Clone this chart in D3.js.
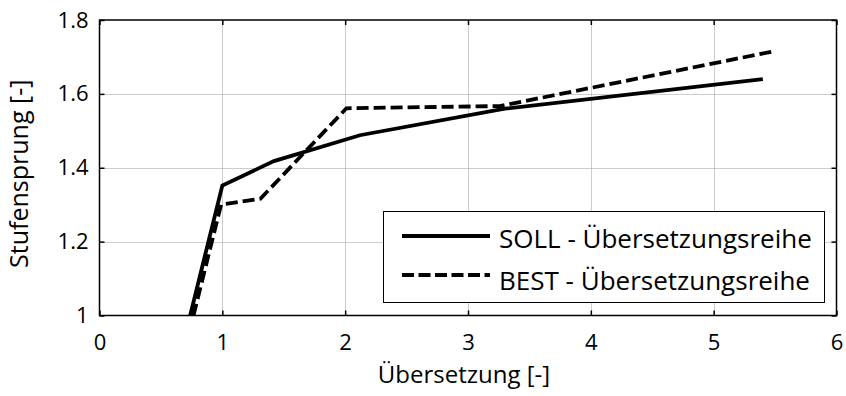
<!DOCTYPE html>
<html>
<head>
<meta charset="utf-8">
<script src="https://cdn.jsdelivr.net/npm/d3@7"></script>
<style>
  body { margin: 0; background: #fff; }
  text { font-family: "Open Sans", sans-serif; fill: #000; }
</style>
</head>
<body>
<svg id="chart" width="846" height="396"></svg>
<script>
// Übersetzung (x) vs. Stufensprung (y)
const sollX = [0.738, 1.0, 1.42, 2.12, 3.3, 5.4];
const sollY = [1.0, 1.352, 1.418, 1.488, 1.56, 1.64];
const bestX = [0.765, 0.99, 1.31, 2.01, 3.26, 5.47];
const bestY = [1.0, 1.30, 1.316, 1.561, 1.567, 1.714];
const xTicks = [0, 1, 2, 3, 4, 5, 6];
const yTicks = [1, 1.2, 1.4, 1.6, 1.8];
const seriesNames = ['SOLL - Übersetzungsreihe', 'BEST - Übersetzungsreihe'];

const svg = d3.select('#chart');
const margin = {left: 99.5, right: 9.5, top: 20, bottom: 80.5};
const W = 846, H = 396;

const x = d3.scaleLinear().domain([0, 6]).range([margin.left, W - margin.right]);
const y = d3.scaleLinear().domain([1, 1.8]).range([H - margin.bottom, margin.top]);

svg.append('defs').append('clipPath').attr('id', 'clip')
  .append('rect')
  .attr('x', x(0)).attr('y', y(1.8))
  .attr('width', x(6) - x(0)).attr('height', y(1) - y(1.8));

// grid
const grid = svg.append('g');
grid.selectAll('line.gx').data(xTicks.slice(1, -1)).enter().append('line')
  .attr('x1', d => Math.round(x(d)) + 0.5).attr('x2', d => Math.round(x(d)) + 0.5)
  .attr('y1', y(1)).attr('y2', y(1.8))
  .attr('stroke', '#999').attr('stroke-dasharray', '1,1');
grid.selectAll('line.gy').data(yTicks.slice(1, -1)).enter().append('line')
  .attr('y1', d => Math.round(y(d)) + 0.5).attr('y2', d => Math.round(y(d)) + 0.5)
  .attr('x1', x(0)).attr('x2', x(6))
  .attr('stroke', '#999').attr('stroke-dasharray', '1,1');

// lines
const line = d3.line().x(d => x(d[0])).y(d => y(d[1]));
const sollPts = sollX.map((v, i) => [v, sollY[i]]);
const bestPts = bestX.map((v, i) => [v, bestY[i]]);

const plot = svg.append('g').attr('clip-path', 'url(#clip)');
plot.append('path').datum(bestPts).attr('d', line)
  .attr('fill', 'none').attr('stroke', '#000').attr('stroke-width', 3.8)
  .attr('stroke-dasharray', '12,5');
plot.append('path').datum(sollPts).attr('d', line)
  .attr('fill', 'none').attr('stroke', '#000').attr('stroke-width', 3.8);

// axes (ticks inward, mirrored)
const tickLen = 5;
svg.append('g').attr('transform', `translate(0,${y(1)})`)
  .call(d3.axisBottom(x).tickValues(xTicks).tickSize(-tickLen).tickPadding(19).tickFormat(d3.format('d')))
  .call(g => g.select('.domain').remove());
svg.append('g').attr('transform', `translate(0,${y(1.8)})`)
  .call(d3.axisTop(x).tickValues(xTicks).tickSize(-tickLen).tickFormat(''))
  .call(g => g.select('.domain').remove());
svg.append('g').attr('transform', `translate(${x(0)},0)`)
  .call(d3.axisLeft(y).tickValues(yTicks).tickSize(-tickLen).tickPadding(11).tickFormat(d => d === 1 ? '1' : d3.format('.1f')(d)))
  .call(g => g.select('.domain').remove());
svg.append('g').attr('transform', `translate(${x(6)},0)`)
  .call(d3.axisRight(y).tickValues(yTicks).tickSize(-tickLen).tickFormat(''))
  .call(g => g.select('.domain').remove());

svg.selectAll('.tick line').attr('stroke', '#000').attr('stroke-width', 1.5);
svg.selectAll('.tick text').style('font-family', '"Open Sans", sans-serif').style('font-size', '22px').attr('fill', '#000');

svg.append('rect')
  .attr('x', x(0)).attr('y', y(1.8))
  .attr('width', x(6) - x(0)).attr('height', y(1) - y(1.8))
  .attr('fill', 'none').attr('stroke', '#000').attr('stroke-width', 1.5);

// axis labels
svg.append('text').attr('x', (x(0) + x(6)) / 2 - 4).attr('y', 383)
  .attr('text-anchor', 'middle').style('font-size', '24px').text('Übersetzung [-]');
svg.append('text')
  .attr('transform', `translate(28,${(y(1) + y(1.8)) / 2 + 6}) rotate(-90)`)
  .attr('text-anchor', 'middle').style('font-size', '25px').text('Stufensprung [-]');

// legend
const lg = svg.append('g');
lg.append('rect').attr('x', 383.5).attr('y', 211.5).attr('width', 441).attr('height', 91)
  .attr('fill', '#fff').attr('stroke', '#000').attr('stroke-width', 1);
const legendY = [236, 275];
const legendBase = [247.5, 290];
seriesNames.forEach((name, i) => {
  lg.append('line').attr('x1', 402).attr('x2', 490)
    .attr('y1', legendY[i]).attr('y2', legendY[i])
    .attr('stroke', '#000').attr('stroke-width', 3.8)
    .attr('stroke-dasharray', i === 1 ? '12,4.5' : null);
  lg.append('text').attr('x', 499).attr('y', legendBase[i])
    .style('font-size', '26px').text(name);
});
</script>
</body>
</html>
